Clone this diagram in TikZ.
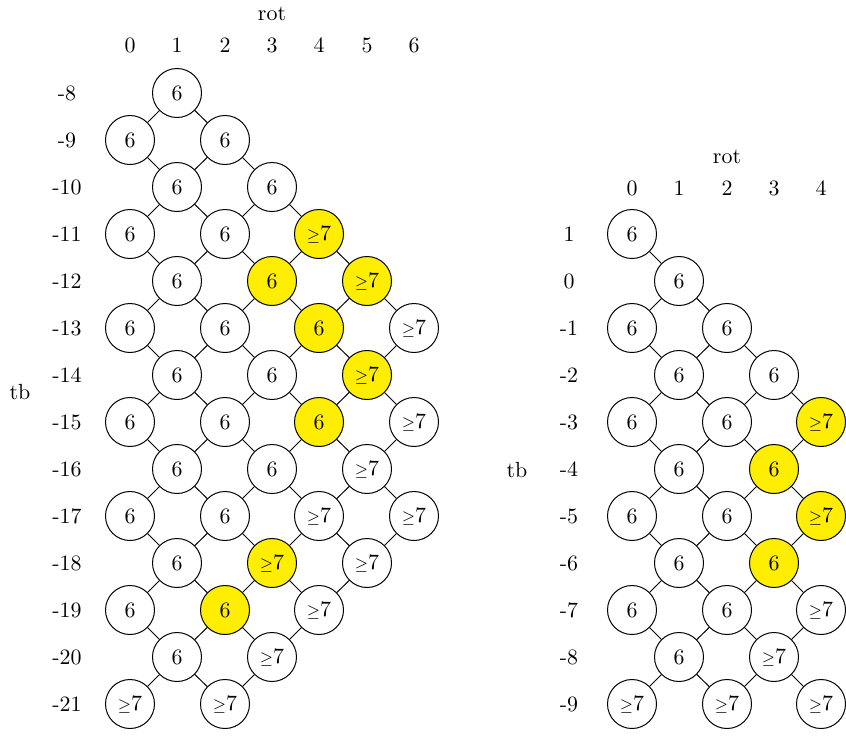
\documentclass[tikz,border=0pt]{standalone}
\usepackage{amsmath,amssymb}
\usetikzlibrary{positioning}
\definecolor{cellHot}{RGB}{255, 238, 0}
\newcommand{\geqseven}{$\scriptstyle\geq$7}

\begin{document}
\begin{tikzpicture}[
    x=0.5pt, y=-0.5pt,
    font=\fontsize{10.95}{13.6}\selectfont,
    % Grid Cell
    cell/.style={
        draw=black,
        fill=white,
        circle,
        line width=0.5pt,
        inner sep=0pt,
        minimum size=24.5pt
    },
    % Highlighted Cell
    hot/.style={
        cell,
        fill=cellHot
    },
    % Axis Label
    axis/.style={
        inner sep=1pt
    },
    % Connector
    link/.style={
        draw=black,
        line width=0.5pt
    }
]
    \useasboundingbox (0,0) rectangle (846,735);

    % Left grid: headers
    \node (lrot) [axis] at (272,14) {rot};
    \node (lc0) [axis] at (130,45) {0};
    \node (lc1) [axis] at (177,45) {1};
    \node (lc2) [axis] at (225,45) {2};
    \node (lc3) [axis] at (272,45) {3};
    \node (lc4) [axis] at (319,45) {4};
    \node (lc5) [axis] at (367,45) {5};
    \node (lc6) [axis] at (414,45) {6};
    \node (ltb) [axis] at (20,392) {tb};
    \node (lr8) [axis] at (67,93) {-8};
    \node (lr9) [axis] at (67,140) {-9};
    \node (lr10) [axis] at (67,187) {-10};
    \node (lr11) [axis] at (67,234) {-11};
    \node (lr12) [axis] at (67,281) {-12};
    \node (lr13) [axis] at (67,328) {-13};
    \node (lr14) [axis] at (67,375) {-14};
    \node (lr15) [axis] at (67,422) {-15};
    \node (lr16) [axis] at (67,469) {-16};
    \node (lr17) [axis] at (67,516) {-17};
    \node (lr18) [axis] at (67,563) {-18};
    \node (lr19) [axis] at (67,610) {-19};
    \node (lr20) [axis] at (67,657) {-20};
    \node (lr21) [axis] at (67,704) {-21};

    % Left grid: cells
    \node (lm8c1) [cell] at (177,93) {6};
    \node (lm9c0) [cell] at (130,140) {6};
    \node (lm9c2) [cell] at (225,140) {6};
    \node (lm10c1) [cell] at (177,187) {6};
    \node (lm10c3) [cell] at (272,187) {6};
    \node (lm11c0) [cell] at (130,234) {6};
    \node (lm11c2) [cell] at (225,234) {6};
    \node (lm11c4) [hot] at (319,234) {\geqseven};
    \node (lm12c1) [cell] at (177,281) {6};
    \node (lm12c3) [hot] at (272,281) {6};
    \node (lm12c5) [hot] at (367,281) {\geqseven};
    \node (lm13c0) [cell] at (130,328) {6};
    \node (lm13c2) [cell] at (225,328) {6};
    \node (lm13c4) [hot] at (319,328) {6};
    \node (lm13c6) [cell] at (414,328) {\geqseven};
    \node (lm14c1) [cell] at (177,375) {6};
    \node (lm14c3) [cell] at (272,375) {6};
    \node (lm14c5) [hot] at (367,375) {\geqseven};
    \node (lm15c0) [cell] at (130,422) {6};
    \node (lm15c2) [cell] at (225,422) {6};
    \node (lm15c4) [hot] at (319,422) {6};
    \node (lm15c6) [cell] at (414,422) {\geqseven};
    \node (lm16c1) [cell] at (177,469) {6};
    \node (lm16c3) [cell] at (272,469) {6};
    \node (lm16c5) [cell] at (367,469) {\geqseven};
    \node (lm17c0) [cell] at (130,516) {6};
    \node (lm17c2) [cell] at (225,516) {6};
    \node (lm17c4) [cell] at (319,516) {\geqseven};
    \node (lm17c6) [cell] at (414,516) {\geqseven};
    \node (lm18c1) [cell] at (177,563) {6};
    \node (lm18c3) [hot] at (272,563) {\geqseven};
    \node (lm18c5) [cell] at (367,563) {\geqseven};
    \node (lm19c0) [cell] at (130,610) {6};
    \node (lm19c2) [hot] at (225,610) {6};
    \node (lm19c4) [cell] at (319,610) {\geqseven};
    \node (lm20c1) [cell] at (177,657) {6};
    \node (lm20c3) [cell] at (272,657) {\geqseven};
    \node (lm21c0) [cell] at (130,704) {\geqseven};
    \node (lm21c2) [cell] at (225,704) {\geqseven};

    % Left grid: connectors
    \draw [link] (lm8c1) -- (lm9c0);
    \draw [link] (lm8c1) -- (lm9c2);

    \draw [link] (lm9c0) -- (lm10c1);
    \draw [link] (lm9c2) -- (lm10c1);
    \draw [link] (lm9c2) -- (lm10c3);

    \draw [link] (lm10c1) -- (lm11c0);
    \draw [link] (lm10c1) -- (lm11c2);
    \draw [link] (lm10c3) -- (lm11c2);
    \draw [link] (lm10c3) -- (lm11c4);

    \draw [link] (lm11c0) -- (lm12c1);
    \draw [link] (lm11c2) -- (lm12c1);
    \draw [link] (lm11c2) -- (lm12c3);
    \draw [link] (lm11c4) -- (lm12c3);
    \draw [link] (lm11c4) -- (lm12c5);

    \draw [link] (lm12c1) -- (lm13c0);
    \draw [link] (lm12c1) -- (lm13c2);
    \draw [link] (lm12c3) -- (lm13c2);
    \draw [link] (lm12c3) -- (lm13c4);
    \draw [link] (lm12c5) -- (lm13c4);
    \draw [link] (lm12c5) -- (lm13c6);

    \draw [link] (lm13c0) -- (lm14c1);
    \draw [link] (lm13c2) -- (lm14c1);
    \draw [link] (lm13c2) -- (lm14c3);
    \draw [link] (lm13c4) -- (lm14c3);
    \draw [link] (lm13c4) -- (lm14c5);
    \draw [link] (lm13c6) -- (lm14c5);

    \draw [link] (lm14c1) -- (lm15c0);
    \draw [link] (lm14c1) -- (lm15c2);
    \draw [link] (lm14c3) -- (lm15c2);
    \draw [link] (lm14c3) -- (lm15c4);
    \draw [link] (lm14c5) -- (lm15c4);
    \draw [link] (lm14c5) -- (lm15c6);

    \draw [link] (lm15c0) -- (lm16c1);
    \draw [link] (lm15c2) -- (lm16c1);
    \draw [link] (lm15c2) -- (lm16c3);
    \draw [link] (lm15c4) -- (lm16c3);
    \draw [link] (lm15c4) -- (lm16c5);
    \draw [link] (lm15c6) -- (lm16c5);

    \draw [link] (lm16c1) -- (lm17c0);
    \draw [link] (lm16c1) -- (lm17c2);
    \draw [link] (lm16c3) -- (lm17c2);
    \draw [link] (lm16c3) -- (lm17c4);
    \draw [link] (lm16c5) -- (lm17c4);
    \draw [link] (lm16c5) -- (lm17c6);

    \draw [link] (lm17c0) -- (lm18c1);
    \draw [link] (lm17c2) -- (lm18c1);
    \draw [link] (lm17c2) -- (lm18c3);
    \draw [link] (lm17c4) -- (lm18c3);
    \draw [link] (lm17c4) -- (lm18c5);
    \draw [link] (lm17c6) -- (lm18c5);

    \draw [link] (lm18c1) -- (lm19c0);
    \draw [link] (lm18c1) -- (lm19c2);
    \draw [link] (lm18c3) -- (lm19c2);
    \draw [link] (lm18c3) -- (lm19c4);
    \draw [link] (lm18c5) -- (lm19c4);

    \draw [link] (lm19c0) -- (lm20c1);
    \draw [link] (lm19c2) -- (lm20c1);
    \draw [link] (lm19c2) -- (lm20c3);
    \draw [link] (lm19c4) -- (lm20c3);

    \draw [link] (lm20c1) -- (lm21c0);
    \draw [link] (lm20c1) -- (lm21c2);
    \draw [link] (lm20c3) -- (lm21c2);

    % Right grid: headers
    \node (rrot) [axis] at (727,157) {rot};
    \node (rc0) [axis] at (632,188) {0};
    \node (rc1) [axis] at (679,188) {1};
    \node (rc2) [axis] at (727,188) {2};
    \node (rc3) [axis] at (774,188) {3};
    \node (rc4) [axis] at (821,188) {4};
    \node (rtb) [axis] at (517,470) {tb};
    \node (rrp1) [axis] at (569,234) {1};
    \node (rr0) [axis] at (569,281) {0};
    \node (rrm1) [axis] at (569,328) {-1};
    \node (rrm2) [axis] at (569,375) {-2};
    \node (rrm3) [axis] at (569,422) {-3};
    \node (rrm4) [axis] at (569,469) {-4};
    \node (rrm5) [axis] at (569,516) {-5};
    \node (rrm6) [axis] at (569,563) {-6};
    \node (rrm7) [axis] at (569,610) {-7};
    \node (rrm8) [axis] at (569,657) {-8};
    \node (rrm9) [axis] at (569,704) {-9};

    % Right grid: cells
    \node (rp1c0) [cell] at (632,234) {6};
    \node (r0c1) [cell] at (679,281) {6};
    \node (rm1c0) [cell] at (632,328) {6};
    \node (rm1c2) [cell] at (727,328) {6};
    \node (rm2c1) [cell] at (679,375) {6};
    \node (rm2c3) [cell] at (774,375) {6};
    \node (rm3c0) [cell] at (632,422) {6};
    \node (rm3c2) [cell] at (727,422) {6};
    \node (rm3c4) [hot] at (821,422) {\geqseven};
    \node (rm4c1) [cell] at (679,469) {6};
    \node (rm4c3) [hot] at (774,469) {6};
    \node (rm5c0) [cell] at (632,516) {6};
    \node (rm5c2) [cell] at (727,516) {6};
    \node (rm5c4) [hot] at (821,516) {\geqseven};
    \node (rm6c1) [cell] at (679,563) {6};
    \node (rm6c3) [hot] at (774,563) {6};
    \node (rm7c0) [cell] at (632,610) {6};
    \node (rm7c2) [cell] at (727,610) {6};
    \node (rm7c4) [cell] at (821,610) {\geqseven};
    \node (rm8c1) [cell] at (679,657) {6};
    \node (rm8c3) [cell] at (774,657) {\geqseven};
    \node (rm9c0) [cell] at (632,704) {\geqseven};
    \node (rm9c2) [cell] at (727,704) {\geqseven};
    \node (rm9c4) [cell] at (821,704) {\geqseven};

    % Right grid: connectors
    \draw [link] (rp1c0) -- (r0c1);

    \draw [link] (r0c1) -- (rm1c0);
    \draw [link] (r0c1) -- (rm1c2);

    \draw [link] (rm1c0) -- (rm2c1);
    \draw [link] (rm1c2) -- (rm2c1);
    \draw [link] (rm1c2) -- (rm2c3);

    \draw [link] (rm2c1) -- (rm3c0);
    \draw [link] (rm2c1) -- (rm3c2);
    \draw [link] (rm2c3) -- (rm3c2);
    \draw [link] (rm2c3) -- (rm3c4);

    \draw [link] (rm3c0) -- (rm4c1);
    \draw [link] (rm3c2) -- (rm4c1);
    \draw [link] (rm3c2) -- (rm4c3);
    \draw [link] (rm3c4) -- (rm4c3);

    \draw [link] (rm4c1) -- (rm5c0);
    \draw [link] (rm4c1) -- (rm5c2);
    \draw [link] (rm4c3) -- (rm5c2);
    \draw [link] (rm4c3) -- (rm5c4);

    \draw [link] (rm5c0) -- (rm6c1);
    \draw [link] (rm5c2) -- (rm6c1);
    \draw [link] (rm5c2) -- (rm6c3);
    \draw [link] (rm5c4) -- (rm6c3);

    \draw [link] (rm6c1) -- (rm7c0);
    \draw [link] (rm6c1) -- (rm7c2);
    \draw [link] (rm6c3) -- (rm7c2);
    \draw [link] (rm6c3) -- (rm7c4);

    \draw [link] (rm7c0) -- (rm8c1);
    \draw [link] (rm7c2) -- (rm8c1);
    \draw [link] (rm7c2) -- (rm8c3);
    \draw [link] (rm7c4) -- (rm8c3);

    \draw [link] (rm8c1) -- (rm9c0);
    \draw [link] (rm8c1) -- (rm9c2);
    \draw [link] (rm8c3) -- (rm9c2);
    \draw [link] (rm8c3) -- (rm9c4);

\end{tikzpicture}
\end{document}
